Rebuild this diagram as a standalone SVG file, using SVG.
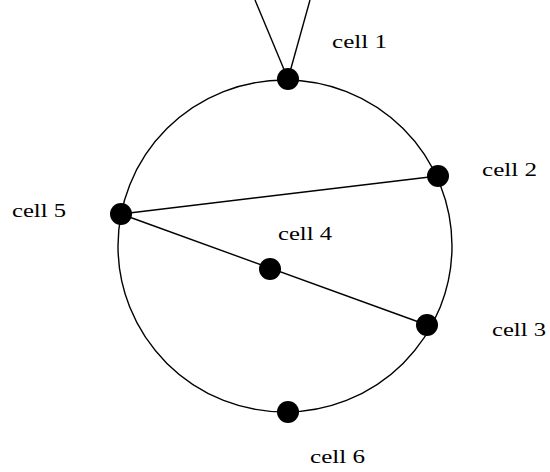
<svg xmlns="http://www.w3.org/2000/svg" width="550" height="472" viewBox="0 0 550 472">
<style>
.ln{stroke:#000;stroke-width:1.4;fill:none}
.dot{fill:#000}
.lbl{font-family:"Liberation Serif","Times New Roman",serif;font-size:19px;fill:#000}
</style>
<rect width="550" height="472" fill="#fff"/>
<g id="connectors">
<ellipse class="ln" cx="285" cy="246" rx="167" ry="166"/>
<line class="ln" x1="255" y1="0" x2="288" y2="79"/>
<line class="ln" x1="310" y1="0" x2="288" y2="79"/>
<line class="ln" x1="121" y1="214" x2="438" y2="176"/>
<line class="ln" x1="121" y1="214" x2="427" y2="325"/>
</g>
<g id="cell1"><circle class="dot" cx="288" cy="79" r="11"/><text class="lbl" x="332" y="48" textLength="55" lengthAdjust="spacingAndGlyphs">cell 1</text></g>
<g id="cell2"><circle class="dot" cx="438" cy="176" r="11"/><text class="lbl" x="482" y="176" textLength="55" lengthAdjust="spacingAndGlyphs">cell 2</text></g>
<g id="cell3"><circle class="dot" cx="427" cy="325" r="11"/><text class="lbl" x="492" y="336" textLength="54" lengthAdjust="spacingAndGlyphs">cell 3</text></g>
<g id="cell4"><circle class="dot" cx="270" cy="269" r="11"/><text class="lbl" x="278" y="240" textLength="54" lengthAdjust="spacingAndGlyphs">cell 4</text></g>
<g id="cell5"><circle class="dot" cx="121" cy="214" r="11"/><text class="lbl" x="12" y="217" textLength="54" lengthAdjust="spacingAndGlyphs">cell 5</text></g>
<g id="cell6"><circle class="dot" cx="288" cy="412" r="11"/><text class="lbl" x="310" y="463" textLength="55" lengthAdjust="spacingAndGlyphs">cell 6</text></g>
</svg>
